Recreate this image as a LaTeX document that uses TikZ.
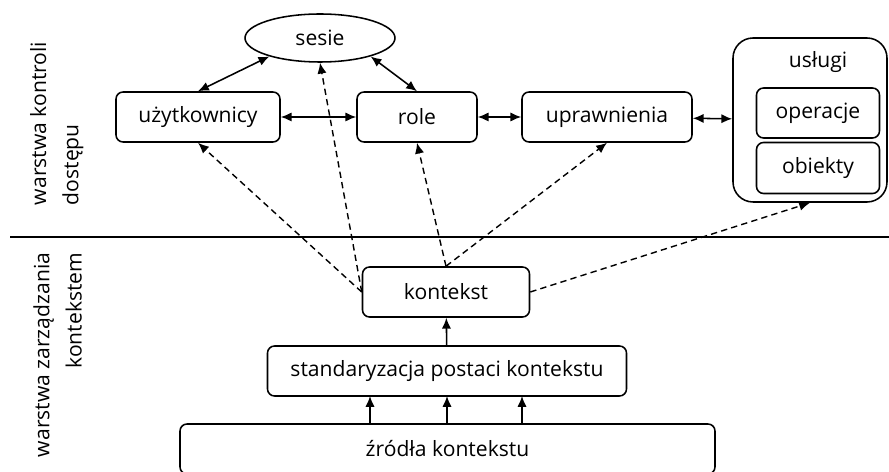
\documentclass[tikz,border=0pt]{standalone}
\usepackage{fontspec}
\setmainfont{Open Sans}
\usetikzlibrary{arrows.meta,shapes.geometric}

\begin{document}
\begin{tikzpicture}[x=1cm,y=1cm,
  box/.style={draw,rounded corners=5pt,line width=1.1pt,minimum height=1.25cm,inner sep=0pt,font=\fontsize{15}{18}\selectfont},
  link/.style={{Latex[length=2.7mm,width=2.3mm]}-{Latex[length=2.7mm,width=2.3mm]},line width=1.1pt},
  feed/.style={-{Latex[length=2.7mm,width=2.3mm]},line width=1.1pt},
  ctx/.style={-{Latex[length=2.7mm,width=2.3mm]},line width=1pt,dash pattern=on 4.5pt off 3pt},
  layer/.style={rotate=90,inner sep=0pt,font=\fontsize{15}{18}\selectfont}]
\useasboundingbox (0,0) rectangle (22.225,11.775);
% layers
\node[layer,align=left] (accessLayer) at (1.42,8.69) {warstwa kontroli\\[5pt]dostępu};
\node[layer,align=right] (contextLayer) at (1.44,2.9) {warstwa zarządzania\\[5pt]kontekstem};
\coordinate (sepL) at (0.25,5.85);
\coordinate (sepR) at (22.225,5.85);
\draw[line width=1.1pt] (sepL) -- (sepR);
% access control
\node[box,ellipse,minimum width=3.75cm,minimum height=1.2cm] (sesie) at (8.0,10.825) {sesie};
\node[box,minimum width=4.1cm] (users) at (4.95,8.85) {użytkownicy};
\node[box,minimum width=3.0cm] (roles) at (10.425,8.85) {role};
\node[box,minimum width=4.25cm] (perms) at (15.175,8.85) {uprawnienia};
\node[box,rounded corners=0.5cm,minimum width=3.85cm,minimum height=4.1cm] (services) at (20.25,8.775) {};
\node[inner sep=0pt,font=\fontsize{15}{18}\selectfont] (servicesLabel) at (20.45,10.225) {usługi};
\node[box,minimum width=3.075cm] (ops) at (20.45,8.95) {operacje};
\node[box,minimum width=3.075cm,minimum height=1.275cm] (objs) at (20.45,7.575) {obiekty};
\draw[link] (users.north) -- (sesie.200);
\draw[link] (sesie.-20) -- (roles.north);
\draw[link] (users) -- (roles);
\draw[link] (roles) -- (perms);
\draw[link] (perms) -- (services);
% context management
\node[box,minimum width=4.175cm] (ctxNode) at (11.15,4.475) {kontekst};
\node[box,minimum width=8.975cm] (stdNode) at (11.175,2.5) {standaryzacja postaci kontekstu};
\node[box,minimum width=13.375cm] (srcNode) at (11.1875,0.55) {źródła kontekstu};
\foreach \x in {9.25,11.175,13.05} {
  \draw[feed] (\x,1.175) -- (\x,1.875);
}
\draw[feed] (stdNode) -- (ctxNode);
\draw[ctx] (ctxNode.west) -- (users.south);
\draw[ctx] (ctxNode.west) -- (sesie.south);
\draw[ctx] (ctxNode.north) -- (roles.south);
\draw[ctx] (ctxNode.north) -- (perms.south);
\draw[ctx] (ctxNode.east) -- (services.south);
\end{tikzpicture}
\end{document}
